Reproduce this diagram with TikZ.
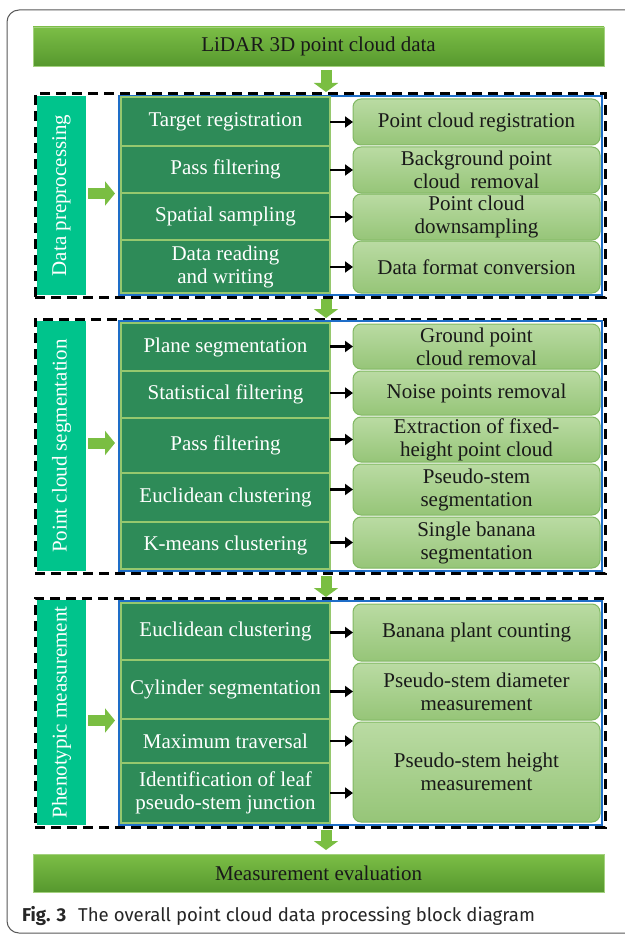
\documentclass[tikz,border=0pt]{standalone}
\usepackage{fontspec}
\setmainfont{Liberation Serif}
\newfontfamily\capfont{Fira Sans}
\usetikzlibrary{arrows.meta}
\definecolor{barTop}{RGB}{124,190,70}
\definecolor{barBot}{RGB}{86,152,46}
\definecolor{cellGreen}{RGB}{46,139,88}
\definecolor{sepGreen}{RGB}{150,200,110}
\definecolor{boxTop}{RGB}{186,219,163}
\definecolor{boxBot}{RGB}{150,197,120}
\definecolor{boxLine}{RGB}{128,184,98}
\definecolor{tealLbl}{RGB}{0,196,140}
\definecolor{frameBlue}{RGB}{30,110,200}
\definecolor{arrGreen}{RGB}{122,190,66}
\definecolor{txtDark}{RGB}{25,25,25}
\newcommand\placebox[7]{\node[#7, anchor=north west, minimum width={#4-#2}, minimum height={#5-#3}] (#1) at (#2,#3) {#6};}
\tikzset{
  base/.style={inner sep=0pt, outer sep=0pt, align=center, font=\fontsize{21}{23}\selectfont},
  bar/.style={base, top color=barTop, bottom color=barBot, draw=barTop!70!white, line width=0.8pt, text=txtDark},
  dashframe/.style={base, draw=black, line width=3pt, dash pattern=on 10pt off 6pt},
  bluebox/.style={base, draw=frameBlue, line width=2pt},
  lblbar/.style={base, fill=tealLbl},
  lbltext/.style={base, text=white, rotate=90},
  cellbox/.style={base, fill=cellGreen, draw=sepGreen, line width=1.5pt, text=white},
  resbox/.style={base, top color=boxTop, bottom color=boxBot, draw=boxLine, line width=1pt, rounded corners=8pt, text=txtDark},
  blkarrow/.style={draw=black, line width=2.6pt, -{Triangle[length=8pt,width=11pt]}},
  gdown/.style={draw=arrGreen, line width=11pt, -{Triangle[length=9pt,width=24pt]}},
  gright/.style={draw=arrGreen, line width=11pt, -{Triangle[length=10pt,width=24pt]}},
}
\begin{document}
\begin{tikzpicture}[x=1pt,y=-1pt]
\useasboundingbox (0,0) rectangle (624,936);
\fill[white] (0,0) rectangle (624,936);
% outer frame
\draw[draw=black!65, line width=1pt, rounded corners=12pt] (700,10) -- (7,10) -- (7,933) -- (700,933);

% top and bottom bars
\placebox{top}{33}{27}{604}{66}{LiDAR 3D point cloud data}{bar}
\placebox{bot}{33}{854}{604}{892}{Measurement evaluation}{bar}

% ---------- Section 1 ----------
\placebox{d1}{35}{94}{605}{297}{}{dashframe}
\placebox{b1}{119}{96.5}{602}{295}{}{bluebox}
\placebox{l1}{37}{96}{86}{295}{}{lblbar}
\node[lbltext] (l1t) at (l1.center) {Data preprocessing};
\placebox{c11}{121}{97}{330}{146}{Target registration}{cellbox}
\placebox{c12}{121}{146}{330}{193}{Pass filtering}{cellbox}
\placebox{c13}{121}{193}{330}{240}{Spatial sampling}{cellbox}
\placebox{c14}{121}{240}{330}{293}{Data reading\\and writing}{cellbox}
\placebox{r11}{353}{99}{600}{145}{Point cloud registration}{resbox}
\placebox{r12}{353}{147}{600}{193}{Background point\\cloud\ \ removal}{resbox}
\placebox{r13}{353}{194}{600}{240}{Point cloud\\downsampling}{resbox}
\placebox{r14}{353}{241}{600}{293}{Data format conversion}{resbox}

% ---------- Section 2 ----------
\placebox{d2}{35}{319}{605}{573}{}{dashframe}
\placebox{b2}{119}{321}{602}{571}{}{bluebox}
\placebox{l2}{37}{321}{86}{571}{}{lblbar}
\node[lbltext] (l2t) at (l2.center) {Point cloud segmentation};
\placebox{c21}{121}{323}{330}{371}{Plane segmentation}{cellbox}
\placebox{c22}{121}{371}{330}{418}{Statistical filtering}{cellbox}
\placebox{c23}{121}{418}{330}{473}{Pass filtering}{cellbox}
\placebox{c24}{121}{473}{330}{522}{Euclidean clustering}{cellbox}
\placebox{c25}{121}{522}{330}{569}{K-means clustering}{cellbox}
\placebox{r21}{353}{324}{600}{369}{Ground point\\cloud removal}{resbox}
\placebox{r22}{353}{371}{600}{415}{Noise points removal}{resbox}
\placebox{r23}{353}{417}{600}{462}{Extraction of fixed-\\height point cloud}{resbox}
\placebox{r24}{353}{464}{600}{515}{Pseudo-stem\\segmentation}{resbox}
\placebox{r25}{353}{517}{600}{568}{Single banana\\segmentation}{resbox}

% ---------- Section 3 ----------
\placebox{d3}{35}{598}{605}{827}{}{dashframe}
\placebox{b3}{119}{600.5}{602}{825}{}{bluebox}
\placebox{l3}{37}{600}{86}{825}{}{lblbar}
\node[lbltext] (l3t) at (l3.center) {Phenotypic measurement};
\placebox{c31}{121}{603}{330}{660}{Euclidean clustering}{cellbox}
\placebox{c32}{121}{660}{330}{719}{Cylinder segmentation}{cellbox}
\placebox{c33}{121}{719}{330}{763}{Maximum traversal}{cellbox}
\placebox{c34}{121}{763}{330}{823}{Identification of leaf\\pseudo-stem junction}{cellbox}
\placebox{r31}{353}{604}{600}{661}{Banana plant counting}{resbox}
\placebox{r32}{353}{663}{600}{720}{Pseudo-stem diameter\\measurement}{resbox}
\placebox{r33}{353}{722}{600}{822}{Pseudo-stem height\\measurement}{resbox}

% black arrows
\foreach \a/\b in {c11/r11,c12/r12,c13/r13,c14/r14,c21/r21,c22/r22,c23/r23,c24/r24,c25/r25,c31/r31,c32/r32}
  \draw[blkarrow] (\b.west -| \a.east) -- (\b.west);
\draw[blkarrow] (c33.east) -- (c33.east -| r33.west);
\draw[blkarrow] (c34.east) -- (c34.east -| r33.west);

% green vertical arrows
\coordinate (ax) at (326,0);
\draw[gdown, shorten <=4pt, shorten >=2pt] (top.south -| ax) -- (d1.north -| ax);
\draw[gdown, shorten <=2pt, shorten >=1pt] (d1.south -| ax) -- (d2.north -| ax);
\draw[gdown, shorten <=3pt, shorten >=1pt] (d2.south -| ax) -- (d3.north -| ax);
\draw[gdown, shorten <=3pt, shorten >=4pt] (d3.south -| ax) -- (bot.north -| ax);

% green right arrows
\draw[gright, shorten <=2pt, shorten >=4pt] (l1.east) ++(0,-2) coordinate (g1) (g1) -- (g1 -| b1.west);
\draw[gright, shorten <=2pt, shorten >=4pt] (l2.east) ++(0,-3) coordinate (g2) (g2) -- (g2 -| b2.west);
\draw[gright, shorten <=2pt, shorten >=4pt] (l3.east) ++(0,8) coordinate (g3) (g3) -- (g3 -| b3.west);

% caption
\node[anchor=west, inner sep=0pt, text=black!85, font=\capfont\fontsize{18.6}{21}\selectfont] (cap) at (22,916) {\textbf{Fig. 3}\hspace{12pt}The overall point cloud data processing block diagram};
\end{tikzpicture}
\end{document}
